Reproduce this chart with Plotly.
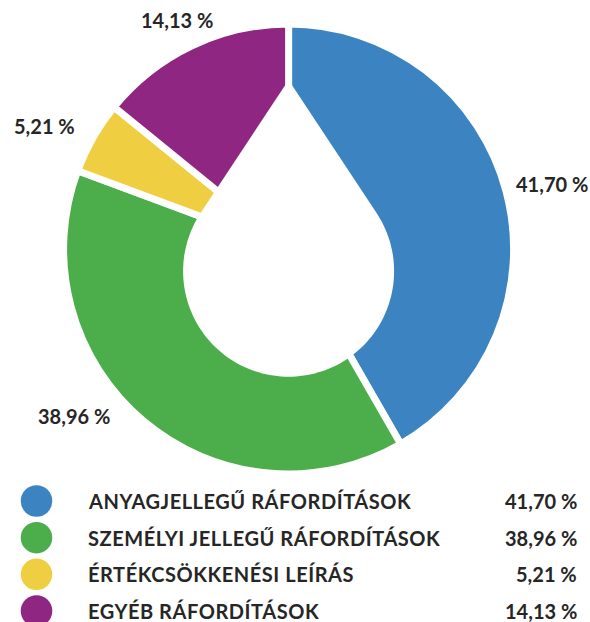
import math
import plotly.graph_objects as go

# ---- data ----
categories = ["ANYAGJELLEGŰ RÁFORDÍTÁSOK", "SZEMÉLYI JELLEGŰ RÁFORDÍTÁSOK",
              "ÉRTÉKCSÖKKENÉSI LEÍRÁS", "EGYÉB RÁFORDÍTÁSOK"]
values = [41.70, 38.96, 5.21, 14.13]
colors = ["#3B84C1", "#4CAD4B", "#EFCF41", "#8F2682"]

# ---- layout constants ----
W, H = 590, 622
FONT = dict(family="Lato", size=20, color="#262626", weight="bold")
label_pos = [(551.5, 183.5), (74, 415.5), (44, 125.5), (177, 19.5)]  # slice label positions (px)
legend_y0, legend_dy = 501, 36.67

def fmt(v):
    return f"{v:.2f}".replace(".", ",") + " %"

# pie geometry in px
cx, cy, R = 288.6, 249.0, 225.0
gap = 7

fig = go.Figure()

fig.add_trace(go.Pie(
    values=values, labels=categories, sort=False, direction="clockwise", rotation=0,
    marker=dict(colors=colors, line=dict(color="white", width=gap)),
    textinfo="none", hoverinfo="label+percent", showlegend=False,
    domain=dict(x=[(cx - R) / W, (cx + R) / W], y=[(H - cy - R) / H, (H - cy + R) / H]),
))

# legend markers
fig.add_trace(go.Scatter(
    x=[36.5] * len(categories), y=[legend_y0 + legend_dy * i for i in range(len(categories))],
    mode="markers", marker=dict(size=31.5, color=colors, line=dict(width=0)),
    showlegend=False, hoverinfo="skip",
))

annotations = []
for i, (cat, v) in enumerate(zip(categories, values)):
    y = legend_y0 + legend_dy * i
    annotations.append(dict(x=86, y=y, text=f'<span style="letter-spacing:0.55px">{cat}</span>',
                            showarrow=False, xanchor="left",
                            yanchor="middle", font=FONT, xref="x", yref="y"))
    annotations.append(dict(x=579, y=y, text=fmt(v), showarrow=False, xanchor="right",
                            yanchor="middle", font=FONT, xref="x", yref="y"))
    lx, ly = label_pos[i]
    annotations.append(dict(x=lx, y=ly, text=fmt(v), showarrow=False, xanchor="center",
                            yanchor="middle", font=FONT, xref="x", yref="y"))

# teardrop hole (white shape over the pie)
tx, ty = 288.6, 80.0
hcx, hcy, hr = 288.6, 271.2, 105.5
d = hcy - ty
phi0 = math.degrees(math.acos(hr / d))
pts = [(tx, ty)]
n = 120
for k in range(n + 1):
    phi = math.radians(phi0 + (360 - 2 * phi0) * k / n)
    pts.append((hcx + hr * math.sin(phi), hcy - hr * math.cos(phi)))
path = "M " + " L ".join(f"{x:.2f},{y:.2f}" for x, y in pts) + " Z"

fig.update_layout(
    width=W, height=H, margin=dict(l=0, r=0, t=0, b=0),
    paper_bgcolor="white", plot_bgcolor="white",
    xaxis=dict(range=[0, W], visible=False, fixedrange=True),
    yaxis=dict(range=[H, 0], visible=False, fixedrange=True),
    annotations=annotations,
    shapes=[dict(type="path", path=path, xref="x", yref="y", fillcolor="white",
                 line=dict(width=0), layer="above")],
    showlegend=False,
)

fig.write_html("out.html", config={"displayModeBar": False},
               post_script="document.body.style.margin='0';document.body.style.overflow='hidden';")
